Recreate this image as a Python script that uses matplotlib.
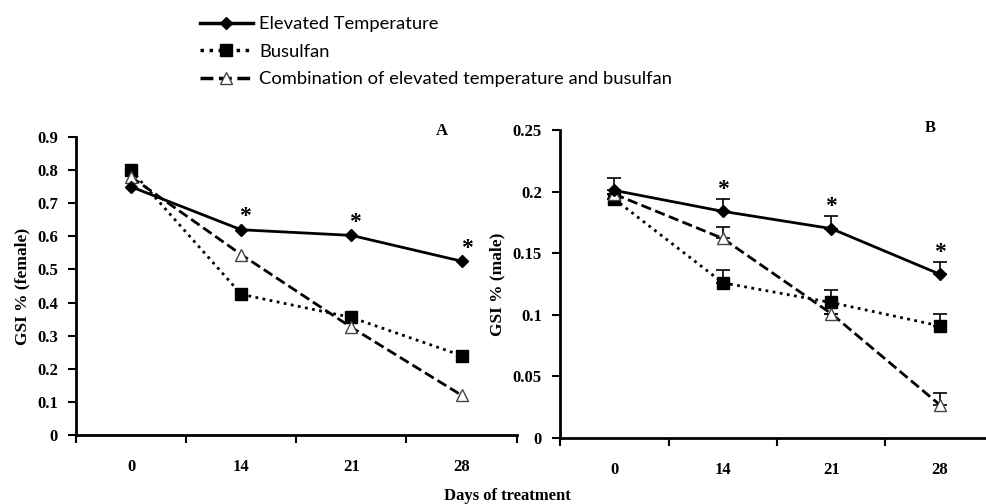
import numpy as np
import matplotlib.pyplot as plt
from matplotlib.lines import Line2D

days = ['0', '14', '21', '28']

# panel A, female
fem_temp = [0.75, 0.62, 0.603, 0.525]
fem_bus = [0.80, 0.425, 0.355, 0.24]
fem_comb = [0.78, 0.545, 0.325, 0.12]

# panel B, male
male_temp = [0.201, 0.184, 0.170, 0.133]
male_temp_err = [0.010, 0.010, 0.010, 0.010]
male_bus = [0.194, 0.126, 0.110, 0.091]
male_bus_err = [0.0, 0.010, 0.010, 0.010]
male_comb = [0.198, 0.162, 0.101, 0.027]
male_comb_err = [0.0, 0.009, 0.0, 0.0095]

stars = [1, 2, 3]  # index of significant points

serif = 'Liberation Serif'
fig = plt.figure(figsize=(9.86, 5.04), dpi=100)
ax1 = fig.add_axes([0.077, 0.137, 0.447, 0.591])
ax2 = fig.add_axes([0.568, 0.131, 0.44, 0.611])

x = np.arange(len(days)) + 0.5


def draw(ax, temp, bus, comb, terr=None, berr=None, cerr=None):
    ax.plot(x, temp, '-', color='black', lw=2, marker='D', ms=6, zorder=4)
    ax.plot(x, bus, color='black', lw=2, ls=(0, (1, 1.6)), marker='s', ms=9, zorder=3)
    ax.plot(x, comb, '--', color='black', lw=2, marker='^', ms=8,
            mfc='white', mec='#444444', zorder=3)
    for vals, err in ((temp, terr), (bus, berr), (comb, cerr)):
        if err is None:
            continue
        ax.errorbar(x, vals, yerr=[np.zeros(len(err)), err], fmt='none',
                    ecolor='black', elinewidth=1.2, capsize=5, capthick=1.2, zorder=2)
    ax.set_xlim(0, 4)
    ax.set_xticks([0, 1, 2, 3, 4])
    ax.set_xticklabels([])
    ax.set_xticks(x, minor=True)
    ax.set_xticklabels(days, minor=True, fontfamily=serif, fontweight='bold', fontsize=12)
    ax.tick_params(axis='x', which='minor', length=0, pad=17)
    ax.tick_params(axis='x', which='major', length=6, width=1.5, direction='out')
    ax.tick_params(axis='y', length=6, width=1.5, direction='out', pad=7)
    for lab in ax.get_yticklabels():
        lab.set_fontfamily(serif)
        lab.set_fontweight('bold')
        lab.set_fontsize(12)
    for s in ('top', 'right'):
        ax.spines[s].set_visible(False)
    for s in ('left', 'bottom'):
        ax.spines[s].set_linewidth(2)


# A
ax1.set_ylim(0, 0.9)
ax1.set_yticks(np.round(np.arange(0, 0.91, 0.1), 1))
ax1.set_yticklabels(['0', '0.1', '0.2', '0.3', '0.4', '0.5', '0.6', '0.7', '0.8', '0.9'])
draw(ax1, fem_temp, fem_bus, fem_comb)
for i in stars:
    ax1.text(x[i] + (0.05 if i == 3 else 0.03), fem_temp[i] + 0.008, '*', ha='center', va='bottom',
             fontsize=17, fontfamily=serif, fontweight='bold')
ax1.set_ylabel('GSI % (female)', fontfamily=serif, fontweight='bold', fontsize=12.5, labelpad=5)
ax1.text(0.83, 1.02, 'A', transform=ax1.transAxes, fontfamily=serif, fontweight='bold',
         fontsize=12, ha='center', va='center')

# B
ax2.set_ylim(0, 0.25)
ax2.set_yticks([0, 0.05, 0.1, 0.15, 0.2, 0.25])
ax2.set_yticklabels(['0', '0.05', '0.1', '0.15', '0.2', '0.25'])
draw(ax2, male_temp, male_bus, male_comb, male_temp_err, male_bus_err, male_comb_err)
for i in stars:
    ax2.text(x[i], male_temp[i] + male_temp_err[i] - 0.001, '*', ha='center', va='bottom',
             fontsize=17, fontfamily=serif, fontweight='bold')
ax2.set_ylabel('GSI % (male)', fontfamily=serif, fontweight='bold', fontsize=12.5, labelpad=5)
ax2.text(0.853, 1.007, 'B', transform=ax2.transAxes, fontfamily=serif, fontweight='bold',
         fontsize=12, ha='center', va='center')

fig.text(0.515, 0.016, 'Days of treatment', ha='center', va='center',
         fontfamily=serif, fontweight='bold', fontsize=12)

handles = [
    Line2D([], [], ls='-', color='black', lw=2.5, marker='D', ms=6),
    Line2D([], [], ls=(0, (1, 1.6)), color='black', lw=2.5, marker='s', ms=8),
    Line2D([], [], ls='--', color='black', lw=2.5, marker='^', ms=8, mfc='white', mec='#444444'),
]
labels = ['Elevated Temperature', 'Busulfan',
          'Combination of elevated temperature and busulfan']
fig.legend(handles, labels, loc='upper left', bbox_to_anchor=(0.186, 1.0), frameon=False,
           prop={'family': 'Lato', 'size': 13.2}, handlelength=2.9, labelspacing=0.62,
           handletextpad=0.35)

fig.savefig('out.png', dpi=100)
